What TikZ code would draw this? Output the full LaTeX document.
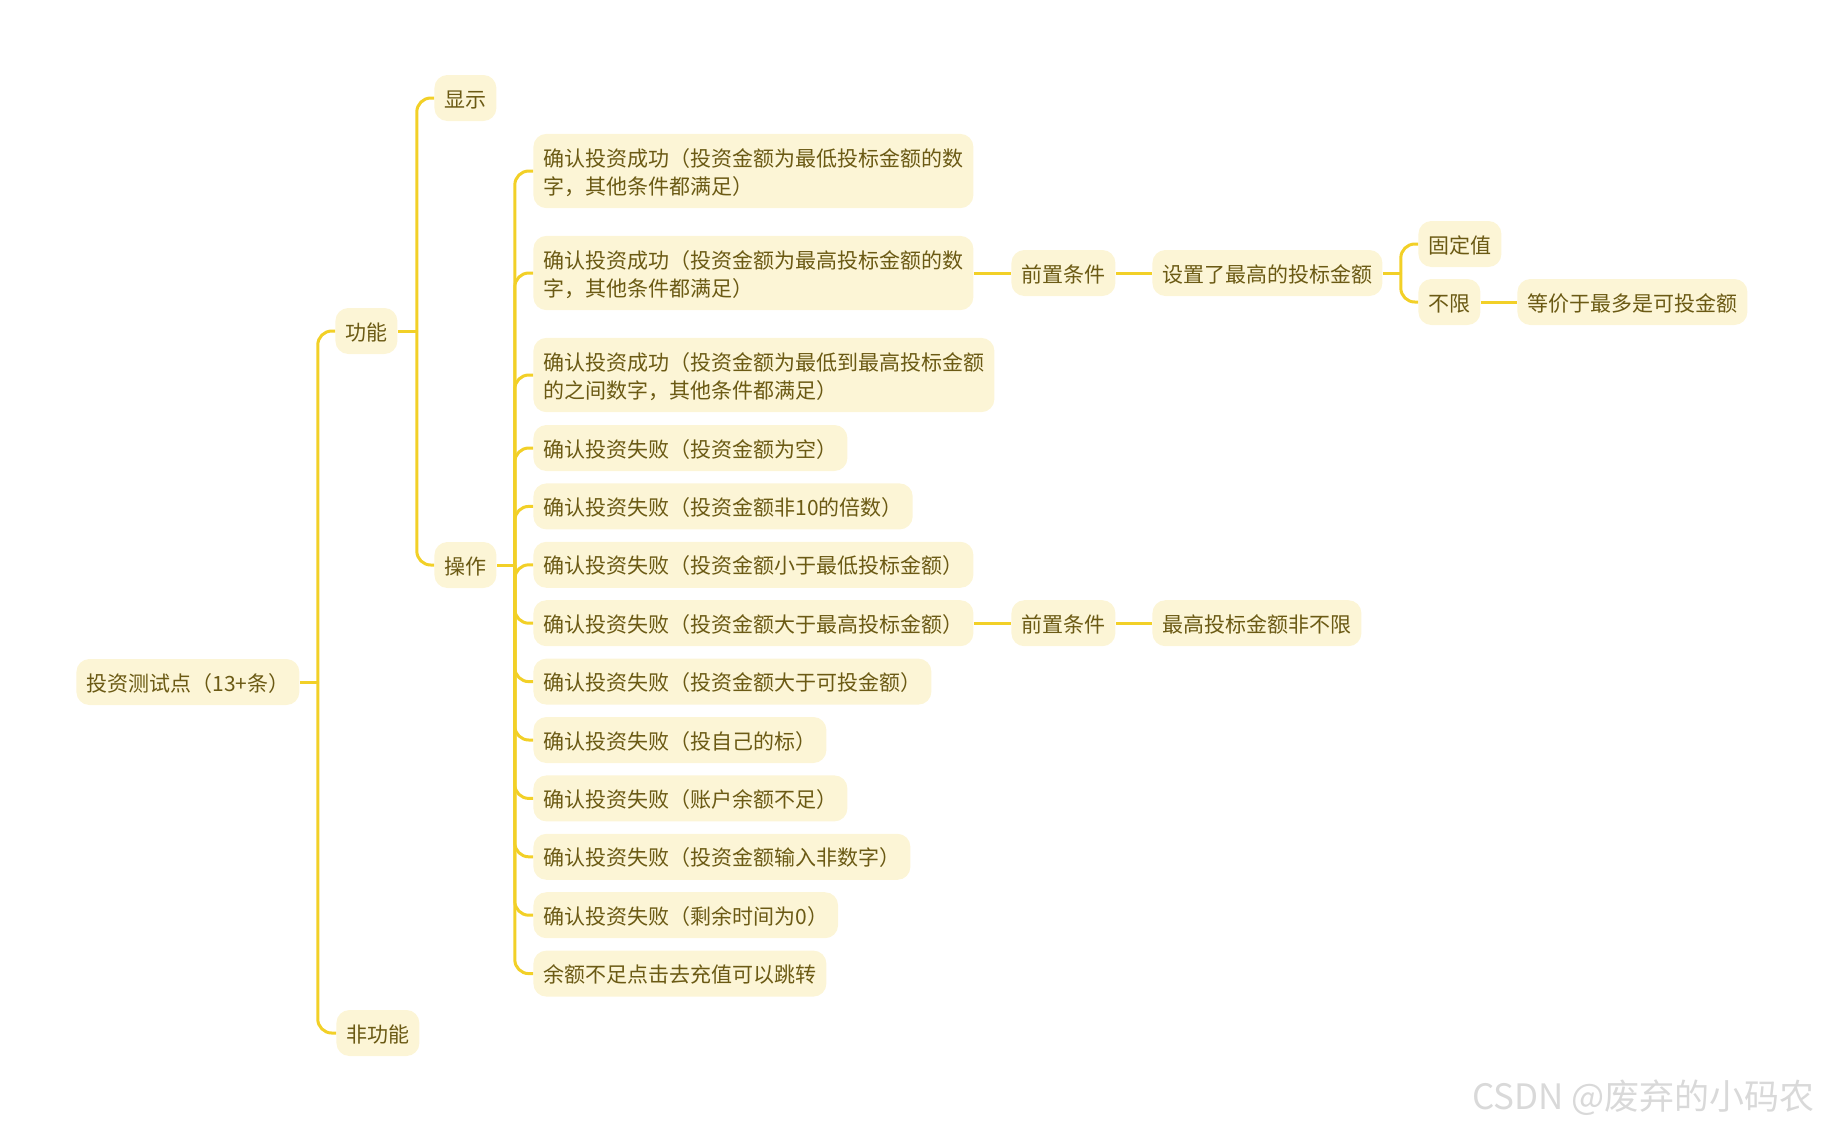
\documentclass[tikz,border=0pt]{standalone}
\usepackage{fontspec}
\setmainfont{Noto Sans CJK SC}

\definecolor{topicfill}{HTML}{FCF5D6}
\definecolor{topictext}{HTML}{6B5A14}
\definecolor{linkcol}{HTML}{F2D027}

\begin{document}
\begin{tikzpicture}[x=0.5pt,y=-0.5pt,
  topic/.style={rectangle, fill=topicfill, rounded corners=6.5pt, text=topictext, anchor=west, align=left,
    inner xsep=5pt, inner ysep=5.5pt, minimum height=23pt, font=\fontsize{10.5pt}{14pt}\selectfont},
  onetopic/.style={topic, text height=10pt, text depth=1pt, inner ysep=6pt},
  link/.style={draw=linkcol, line width=1.5pt, rounded corners=7pt}]
\useasboundingbox (0,0) rectangle (1821,1132);

\node (root) [onetopic] at (76,682) {投资测试点（13+条）};
\node (func) [onetopic] at (335,331) {功能};
\node (nonfunc) [onetopic] at (336,1033) {非功能};
\node (show) [onetopic] at (434,98) {显示};
\node (op) [onetopic] at (434,565) {操作};

\node (ok1) [topic] at (533,171) {\rule{0pt}{11pt}确认投资成功（投资金额为最低投标金额的数\\字，其他条件都满足）};
\node (ok2) [topic] at (533,273) {\rule{0pt}{11pt}确认投资成功（投资金额为最高投标金额的数\\字，其他条件都满足）};
\node (ok3) [topic] at (533,375) {\rule{0pt}{11pt}确认投资成功（投资金额为最低到最高投标金额\\的之间数字，其他条件都满足）};
\node (fail1) [onetopic] at (533,448) {确认投资失败（投资金额为空）};
\node (fail2) [onetopic] at (533,506.4) {确认投资失败（投资金额非10的倍数）};
\node (fail3) [onetopic] at (533,564.8) {确认投资失败（投资金额小于最低投标金额）};
\node (fail4) [onetopic] at (533,623.2) {确认投资失败（投资金额大于最高投标金额）};
\node (fail5) [onetopic] at (533,681.6) {确认投资失败（投资金额大于可投金额）};
\node (fail6) [onetopic] at (533,740) {确认投资失败（投自己的标）};
\node (fail7) [onetopic] at (533,798.4) {确认投资失败（账户余额不足）};
\node (fail8) [onetopic] at (533,856.8) {确认投资失败（投资金额输入非数字）};
\node (fail9) [onetopic] at (533,915.2) {确认投资失败（剩余时间为0）};
\node (jump) [onetopic] at (533,973.6) {余额不足点击去充值可以跳转};

\node (pre1) [onetopic] at (1011,273) {前置条件};
\node (maxset) [onetopic] at (1152,273) {设置了最高的投标金额};
\node (fixed) [onetopic] at (1418,244) {固定值};
\node (nolimit) [onetopic] at (1418,302) {不限};
\node (equal) [onetopic] at (1517,302) {等价于最多是可投金额};
\node (pre2) [onetopic] at (1011,623.2) {前置条件};
\node (maxany) [onetopic] at (1152,623.2) {最高投标金额非不限};

\node (mark) [anchor=west, inner sep=0pt, text=gray!30, font=\fontsize{17.5pt}{20pt}\selectfont] at (1472,1098) {CSDN @废弃的小码农};

% branches
\draw [link] (root.east) -- ++(18,0);
\foreach \c in {func,nonfunc}
  \draw [link] (root.east) ++(18,0) |- (\c.west);
\draw [link] (func.east) -- ++(19,0);
\foreach \c in {show,op}
  \draw [link] (func.east) ++(19,0) |- (\c.west);
\draw [link] (op.east) -- ++(18,0);
\foreach \c in {ok1,ok2,ok3,fail1,fail2,fail3,fail4,fail5,fail6,fail7,fail8,fail9,jump}
  \draw [link] (op.east) ++(18,0) |- (\c.west);

\draw [link] (ok2.east) -- (pre1.west);
\draw [link] (pre1.east) -- (maxset.west);
\draw [link] (maxset.east) -- ++(18,0);
\foreach \c in {fixed,nolimit}
  \draw [link] (maxset.east) ++(18,0) |- (\c.west);
\draw [link] (nolimit.east) -- (equal.west);
\draw [link] (fail4.east) -- (pre2.west);
\draw [link] (pre2.east) -- (maxany.west);
\end{tikzpicture}
\end{document}
